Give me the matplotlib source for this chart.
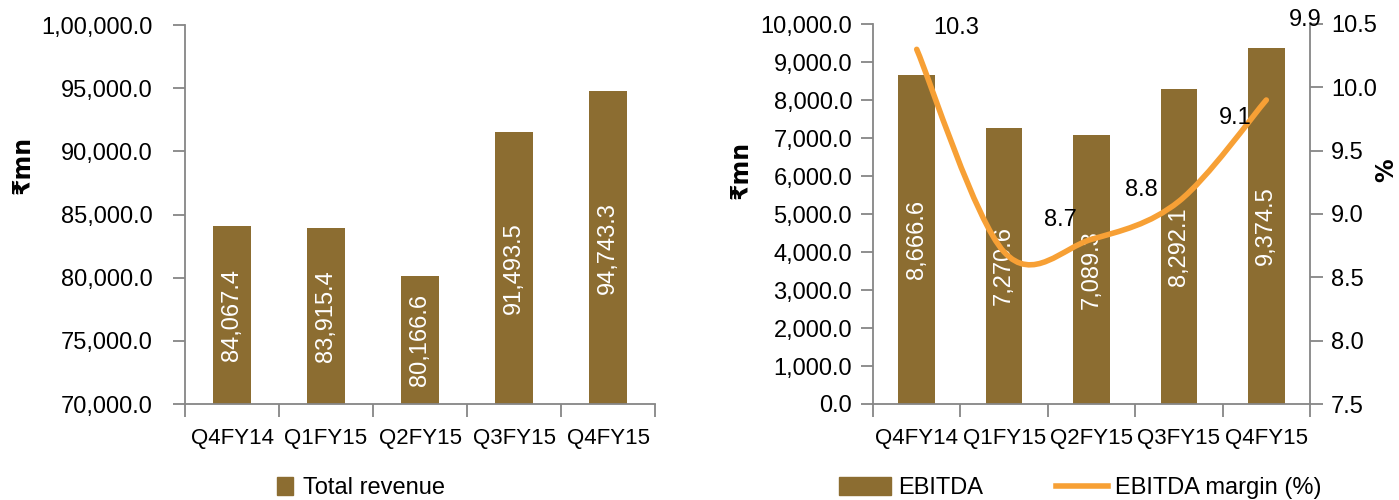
import matplotlib
matplotlib.use("Agg")
import matplotlib.pyplot as plt
from matplotlib.path import Path
from matplotlib.patches import PathPatch, Patch
from matplotlib.lines import Line2D
from matplotlib.ticker import FuncFormatter, FixedLocator

plt.rcParams['font.family'] = ['Liberation Sans', 'DejaVu Sans']

quarters = ['Q4FY14', 'Q1FY15', 'Q2FY15', 'Q3FY15', 'Q4FY15']
revenue = [84067.4, 83915.4, 80166.6, 91493.5, 94743.3]
ebitda = [8666.6, 7270.6, 7089.3, 8292.1, 9374.5]
margin = [10.3, 8.7, 8.8, 9.1, 9.9]

BAR = '#8C6D31'
LINE = '#F7A035'
GREY = '#868686'
FS = 17


def indian(v, pos=None):
    neg = v < 0
    s = '%.1f' % abs(v)
    whole, dec = s.split('.')
    if len(whole) > 3:
        head, tail = whole[:-3], whole[-3:]
        groups = []
        while len(head) > 2:
            groups.insert(0, head[-2:])
            head = head[:-2]
        if head:
            groups.insert(0, head)
        whole = ','.join(groups + [tail])
    return ('-' if neg else '') + whole + '.' + dec


def style_axes(ax, ypad):
    for s in ['top', 'right']:
        ax.spines[s].set_visible(False)
    for s in ['left', 'bottom']:
        ax.spines[s].set_color(GREY)
        ax.spines[s].set_linewidth(1.3)
    ax.set_xlim(-0.5, len(quarters) - 0.5)
    ax.set_xticks(range(len(quarters)))
    ax.set_xticklabels(quarters, fontsize=16)
    ax.tick_params(axis='x', which='major', length=0, pad=17)
    ax.xaxis.set_minor_locator(FixedLocator([i - 0.5 for i in range(len(quarters) + 1)]))
    ax.tick_params(axis='x', which='minor', length=9, color=GREY, width=1.3)
    ax.tick_params(axis='y', length=9, color=GREY, width=1.3, labelsize=FS, pad=ypad)
    ax.yaxis.set_major_formatter(FuncFormatter(indian))


def smooth(xs, ys):
    # Excel-style smoothed line through the points (cubic Bezier segments)
    pts = list(zip(xs, ys))
    n = len(pts)
    verts = [pts[0]]
    codes = [Path.MOVETO]
    for i in range(n - 1):
        p0 = pts[i - 1] if i > 0 else pts[i]
        p1 = pts[i]
        p2 = pts[i + 1]
        p3 = pts[i + 2] if i + 2 < n else pts[i + 1]
        c1 = (p1[0] + (p2[0] - p0[0]) / 6, p1[1] + (p2[1] - p0[1]) / 6)
        c2 = (p2[0] - (p3[0] - p1[0]) / 6, p2[1] - (p3[1] - p1[1]) / 6)
        verts += [c1, c2, p2]
        codes += [Path.CURVE4] * 3
    return Path(verts, codes)


fig = plt.figure(figsize=(13.99, 5.0), dpi=100)

# left: total revenue
ax1 = fig.add_axes([185 / 1399, 96 / 500, 470 / 1399, 379 / 500])
x = range(len(quarters))
ax1.bar(x, [r - 70000 for r in revenue], bottom=70000, width=0.4, color=BAR)
ax1.set_ylim(70000, 100000)
ax1.set_yticks(range(70000, 100001, 5000))
style_axes(ax1, 14)
for i, r in enumerate(revenue):
    ax1.text(i, (70000 + r) / 2, indian(r), rotation=90, color='white',
             ha='center', va='center', fontsize=FS)
ax1.set_ylabel('₹mn', fontsize=FS, fontweight='bold', family=['DejaVu Sans'])
ax1.yaxis.set_label_coords(-0.32, 0.63)
ax1.legend([Patch(color=BAR)], ['Total revenue'], loc='center',
           bbox_to_anchor=(0.374, -0.222), frameon=False, fontsize=FS,
           handlelength=0.7, handleheight=0.8, handletextpad=0.4)

# right: EBITDA and margin
ax2 = fig.add_axes([873 / 1399, 96 / 500, 437 / 1399, 380 / 500])
ax2.bar(x, ebitda, width=0.42, color=BAR)
ax2.set_ylim(0, 10000)
ax2.set_yticks(range(0, 10001, 1000))
style_axes(ax2, 6)
for i, e in enumerate(ebitda):
    ax2.text(i, e / 2, indian(e), rotation=90, color='white',
             ha='center', va='center', fontsize=FS)
ax2.set_ylabel('₹mn', fontsize=FS, fontweight='bold', family=['DejaVu Sans'])
ax2.yaxis.set_label_coords(-0.275, 0.616)

ax3 = ax2.twinx()
ax3.set_ylim(7.5, 10.5)
ax3.set_yticks([7.5, 8.0, 8.5, 9.0, 9.5, 10.0, 10.5])
ax3.yaxis.set_major_formatter(FuncFormatter(lambda v, p: '%.1f' % v))
for s in ['top', 'left', 'bottom']:
    ax3.spines[s].set_visible(False)
ax3.spines['right'].set_color(GREY)
ax3.spines['right'].set_linewidth(1.3)
ax3.tick_params(axis='y', length=9, color=GREY, width=1.3, labelsize=FS, pad=6)
ax3.add_patch(PathPatch(smooth(list(x), margin), facecolor='none',
                        edgecolor=LINE, linewidth=4, capstyle='round'))
ax3.set_ylabel('%', fontsize=FS, fontweight='bold', family=['DejaVu Sans'])
ax3.yaxis.set_label_coords(1.148, 0.616)

label_offsets = [(39, 21), (56, 32), (50, 49), (56, 83), (39, 80)]
for i, m in enumerate(margin):
    dx, dy = label_offsets[i]
    ax3.annotate('%.1f' % m, (i, m), xytext=(dx * 0.72, dy * 0.72),
                 textcoords='offset points', ha='center', va='center',
                 fontsize=FS, annotation_clip=False)

ax2.legend([Patch(color=BAR), Line2D([0], [0], color=LINE, lw=4)],
           ['EBITDA', 'EBITDA margin (%)'], loc='center', ncol=2,
           bbox_to_anchor=(0.474, -0.222), frameon=False, fontsize=FS,
           handlelength=2.2, handleheight=0.8, handletextpad=0.3,
           columnspacing=3.1)

fig.savefig('out.png', dpi=100)
